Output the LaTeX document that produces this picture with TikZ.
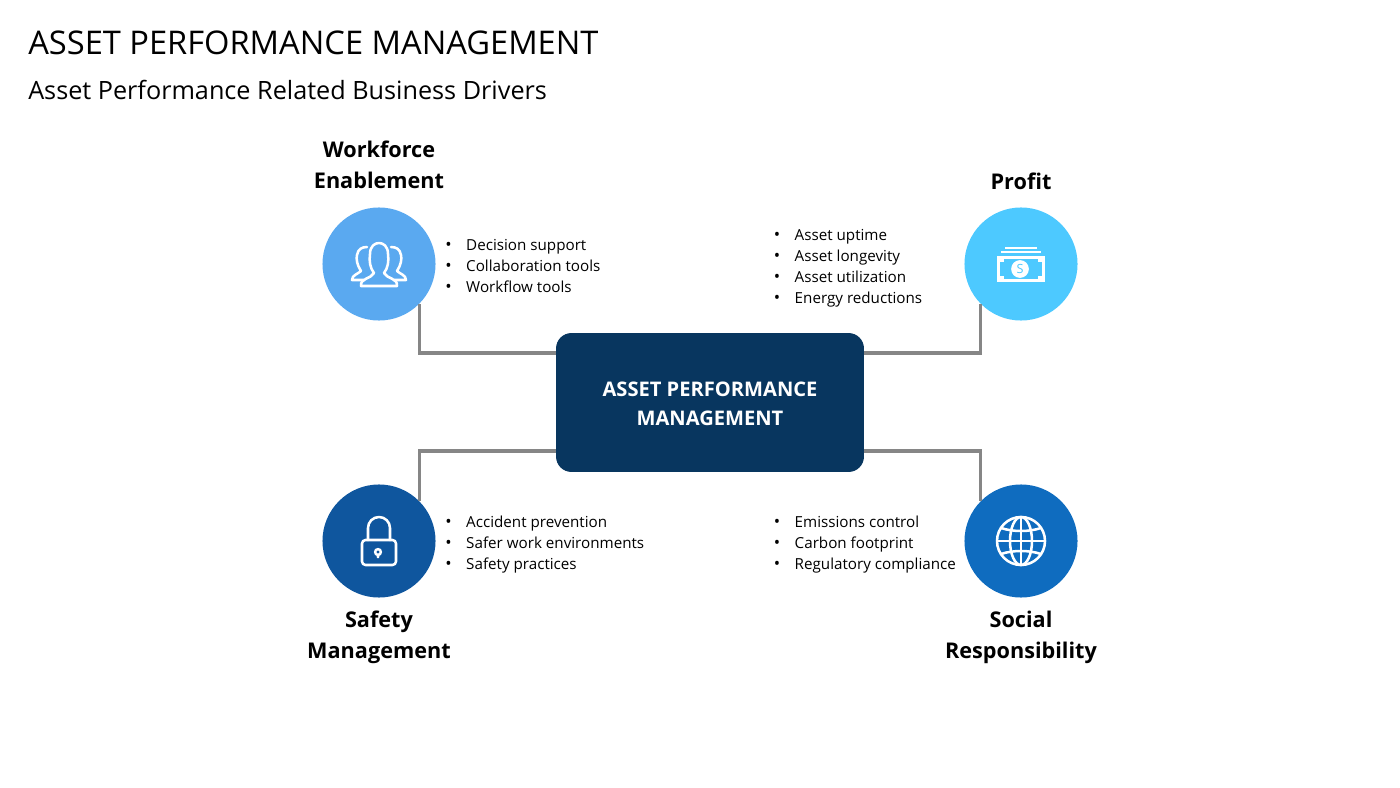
\documentclass[tikz,border=0pt]{standalone}
\usepackage{fontspec}
\setmainfont{Open Sans}
\usetikzlibrary{positioning}

\definecolor{boxnavy}{HTML}{08365F}
\definecolor{wfblue}{HTML}{5AA9F0}
\definecolor{profitblue}{HTML}{4DC9FF}
\definecolor{safetyblue}{HTML}{0F569E}
\definecolor{socialblue}{HTML}{0F6CBF}
\definecolor{linkgray}{HTML}{868686}

\newcommand{\bitem}[1]{\makebox[14.9pt][l]{\large\textbullet}#1}

\tikzset{
  hub/.style={circle, minimum size=80.4pt, inner sep=0pt},
  mainbox/.style={rectangle, rounded corners=11pt, fill=boxnavy, text=white, minimum width=219pt,
    minimum height=98.8pt, align=center, font=\fontsize{14.3}{20}\selectfont\bfseries},
  link/.style={draw=linkgray, line width=2.3pt},
  headline/.style={align=center, font=\fontsize{15.4}{22}\selectfont\bfseries},
  bullets/.style={align=left, inner sep=0pt, font=\fontsize{10.8}{15}\selectfont},
  icon/.style={draw=white, line width=1.8pt, line join=round, line cap=round}
}

\begin{document}
\begin{tikzpicture}[x=0.025cm, y=-0.025cm]
    \useasboundingbox (0,0) rectangle (1400,788);

    \node [anchor=base west, inner sep=0pt, font=\fontsize{23.2}{28}\selectfont] (title) at (28,55) {ASSET PERFORMANCE MANAGEMENT};
    \node [anchor=base west, inner sep=0pt, font=\fontsize{17.93}{22}\selectfont] (subtitle) at (28,100) {Asset Performance Related Business Drivers};

    \node [mainbox] (apm) at (710,402.5) {\rule{0pt}{12.3pt}ASSET PERFORMANCE\\MANAGEMENT};

    \node [hub, fill=wfblue] (workforce) at (379,264) {};
    \node [hub, fill=profitblue] (profit) at (1021,264) {};
    \node [hub, fill=safetyblue] (safety) at (379,541) {};
    \node [hub, fill=socialblue] (social) at (1021,541) {};

    % where the lines leave the box
    \coordinate (apmnw) at (556,353);
    \coordinate (apmne) at (864,353);
    \coordinate (apmsw) at (556,451);
    \coordinate (apmse) at (864,451);

    \draw [link] (apmnw) -| (workforce.-45);
    \draw [link] (apmne) -| (profit.-135);
    \draw [link] (apmsw) -| (safety.45);
    \draw [link] (apmse) -| (social.135);

    \node [headline, above=9.4pt of workforce] (wfhead) {Workforce\\Enablement};
    \node [headline, above=8.7pt of profit] (profithead) {Profit};
    \node [headline, below=6pt of safety] (safetyhead) {Safety\\Management};
    \node [headline, below=6pt of social] (socialhead) {Social\\Responsibility};

    \node [bullets, anchor=west] (wflist) at (445,266) {\bitem{Decision support}\\\bitem{Collaboration tools}\\\bitem{Workflow tools}};
    \node [bullets, anchor=west] (profitlist) at (773.5,268) {\bitem{Asset uptime}\\\bitem{Asset longevity}\\\bitem{Asset utilization}\\\bitem{Energy reductions}};
    \node [bullets, anchor=west] (safetylist) at (445,544.5) {\bitem{Accident prevention}\\\bitem{Safer work environments}\\\bitem{Safety practices}};
    \node [bullets, anchor=west] (sociallist) at (773.5,544.5) {\bitem{Emissions control}\\\bitem{Carbon footprint}\\\bitem{Regulatory compliance}};

    % people
    \begin{scope}[shift={(workforce.center)}]
      \draw [icon] (-18,22) -- (18,22) .. controls (19,14) and (8,15) .. (5,9) .. controls (9,4) and (10,-3) .. (9,-10)
        .. controls (9,-18) and (4,-21) .. (0,-21) .. controls (-4,-21) and (-9,-18) .. (-9,-10)
        .. controls (-10,-3) and (-9,4) .. (-5,9) .. controls (-8,15) and (-19,14) .. (-18,22) -- cycle;
      \draw [icon] (-15,16) -- (-27,16) .. controls (-27,11) and (-21,10) .. (-18,7) .. controls (-22,1) and (-23,-5) .. (-22,-9)
        .. controls (-21,-15) and (-17,-17) .. (-12,-17);
      \draw [icon] (15,16) -- (27,16) .. controls (27,11) and (21,10) .. (18,7) .. controls (22,1) and (23,-5) .. (22,-9)
        .. controls (21,-15) and (17,-17) .. (12,-17);
    \end{scope}

    % banknotes
    \begin{scope}[shift={(profit.center)}]
      \draw [icon, line cap=butt] (-16,-16) -- (16,-16);
      \draw [icon, line cap=butt] (-20,-12) -- (20,-12);
      \draw [icon, line width=2.2pt, line join=miter] (-22.5,-6.5) rectangle (22.5,16.5);
      \fill [white] (-24,-8) rectangle (-17,-2);
      \fill [white] (24,-8) rectangle (17,-2);
      \fill [white] (-24,18) rectangle (-17,12);
      \fill [white] (24,18) rectangle (17,12);
      \node [circle, fill=white, text=profitblue, minimum size=12.6pt, inner sep=0pt, font=\fontsize{9}{9}\selectfont] (dollar) at (-1,5) {S};
    \end{scope}

    % padlock
    \begin{scope}[shift={(safety.center)}]
      \draw [icon, rounded corners=2.5pt] (-17,-1) rectangle (17,24);
      \draw [icon] (-11,-1) -- (-11,-13) arc [start angle=180, end angle=0, x radius=11, y radius=-11] -- (11,-1);
      \fill [white] (-1,11) circle [radius=4.2];
      \fill [white] (-3,12) -- (1,12) -- (0,17) -- (-2,17) -- cycle;
      \fill [safetyblue] (-1,11) circle [radius=1.6];
    \end{scope}

    % globe
    \begin{scope}[shift={(social.center)}]
      \draw [icon] (0,0) circle [radius=24];
      \draw [icon] (0,0) ellipse [x radius=11, y radius=24];
      \draw [icon] (0,-24) -- (0,24);
      \draw [icon] (-24,0) -- (24,0);
      \draw [icon] (-20,-13) .. controls (-8,-9) and (8,-9) .. (20,-13);
      \draw [icon] (-20,13) .. controls (-8,9) and (8,9) .. (20,13);
    \end{scope}
  \end{tikzpicture}
\end{document}
